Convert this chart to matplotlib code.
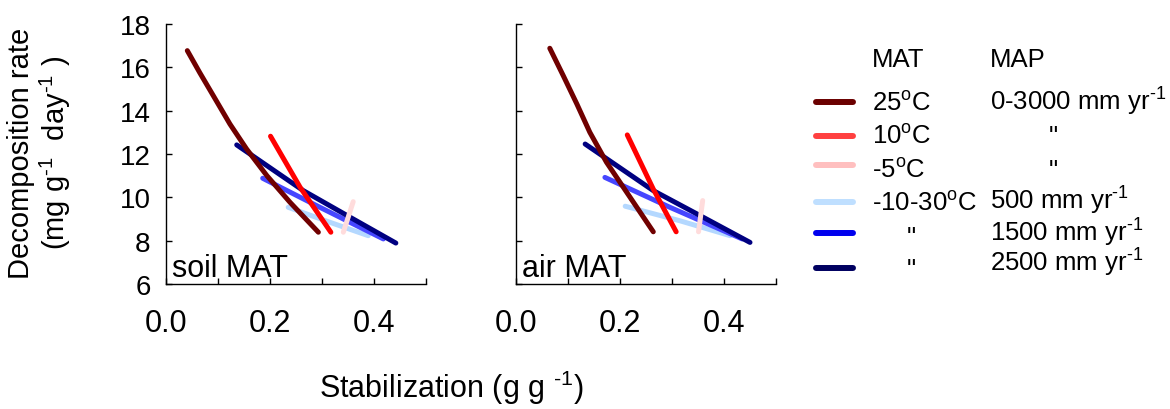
import matplotlib
matplotlib.use("Agg")
import matplotlib.pyplot as plt
from matplotlib.lines import Line2D

plt.rcParams['font.family'] = ['Liberation Sans', 'DejaVu Sans']
plt.rcParams['mathtext.fontset'] = 'custom'
plt.rcParams['mathtext.rm'] = 'Liberation Sans'
plt.rcParams['mathtext.it'] = 'Liberation Sans'

# curves: (stabilization, decomposition rate)
soil_25_x = [0.041, 0.065, 0.091, 0.123, 0.155, 0.194, 0.2385, 0.293]
soil_25_y = [16.77, 15.75, 14.69, 13.38, 12.23, 11.0, 9.77, 8.39]
soil_10_x = [0.201, 0.258, 0.317]
soil_10_y = [12.82, 10.46, 8.39]
soil_m5_x = [0.341, 0.360]
soil_m5_y = [8.39, 9.80]
soil_500_x = [0.235, 0.315, 0.389]
soil_500_y = [9.54, 8.85, 8.23]
soil_1500_x = [0.186, 0.296, 0.418]
soil_1500_y = [10.88, 9.54, 8.08]
soil_2500_x = [0.136, 0.264, 0.360, 0.442]
soil_2500_y = [12.42, 10.31, 9.0, 7.89]

air_25_x = [0.065, 0.091, 0.117, 0.142, 0.174, 0.213, 0.264]
air_25_y = [16.88, 15.61, 14.31, 13.0, 11.62, 10.23, 8.41]
air_10_x = [0.214, 0.264, 0.308]
air_10_y = [12.88, 10.38, 8.41]
air_m5_x = [0.351, 0.359]
air_m5_y = [8.41, 9.85]
air_500_x = [0.210, 0.315, 0.412]
air_500_y = [9.59, 8.92, 8.23]
air_1500_x = [0.171, 0.296, 0.435]
air_1500_y = [10.92, 9.54, 8.08]
air_2500_x = [0.133, 0.264, 0.360, 0.450]
air_2500_y = [12.46, 10.31, 9.08, 7.92]

panel_names = ['soil MAT', 'air MAT']
sup = '$^{\\text{-}1}$'
mat_labels = ['25$^{\\rm o}$C', '10$^{\\rm o}$C', '-5$^{\\rm o}$C', '-10-30$^{\\rm o}$C', '"', '"']
map_labels = ['0-3000 mm yr' + sup, '"', '"', '500 mm yr' + sup,
              '1500 mm yr' + sup, '2500 mm yr' + sup]

plot_colors = ['#700000', '#ff0000', '#ffdcdc', '#b4d8ff', '#4646ff', '#000080']
legend_colors = ['#6b0000', '#ff4040', '#ffbfbf', '#bfdfff', '#0000ee', '#000060']

soil = [(soil_500_x, soil_500_y, 3), (soil_1500_x, soil_1500_y, 4), (soil_2500_x, soil_2500_y, 5),
        (soil_25_x, soil_25_y, 0), (soil_10_x, soil_10_y, 1), (soil_m5_x, soil_m5_y, 2)]
air = [(air_500_x, air_500_y, 3), (air_1500_x, air_1500_y, 4), (air_2500_x, air_2500_y, 5),
       (air_25_x, air_25_y, 0), (air_10_x, air_10_y, 1), (air_m5_x, air_m5_y, 2)]

fig = plt.figure(figsize=(11.7, 4.1), dpi=100)
ax1 = fig.add_axes([166/1170, 1-285/410, 260/1170, 260/410])
ax2 = fig.add_axes([516/1170, 1-285/410, 260/1170, 260/410])

for ax, series, name in zip([ax1, ax2], [soil, air], panel_names):
    for xs, ys, c in series:
        ax.plot(xs, ys, color=plot_colors[c], lw=3.6, solid_capstyle='round', solid_joinstyle='round')
    ax.set_xlim(0, 0.5)
    ax.set_ylim(6, 18)
    ax.set_xticks([0, 0.1, 0.2, 0.3, 0.4, 0.5])
    ax.set_xticklabels(['0.0', '', '0.2', '', '0.4', ''])
    ax.set_yticks([6, 8, 10, 12, 14, 16, 18])
    ax.spines['top'].set_visible(False)
    ax.spines['right'].set_visible(False)
    ax.spines['left'].set_linewidth(1.0)
    ax.spines['bottom'].set_linewidth(1.0)
    ax.tick_params(axis='x', direction='in', length=4, width=1, labelsize=22, pad=17)
    ax.tick_params(axis='y', direction='in', length=4, width=1, labelsize=20, pad=11)
    ax.text(0.012, 6.37, name, fontsize=22, va='baseline', ha='left')
ax2.set_yticklabels([])

fig.text(40/1170, 1-153/410, 'Decomposition rate\n(mg g' + sup + '  day' + sup + ' )',
         rotation=90, ha='center', va='center', fontsize=21, linespacing=1.1, multialignment='center')
fig.text(451/1170, 1-398/410, 'Stabilization (g g ' + sup + ')', ha='center', va='baseline', fontsize=22)

# legend drawn by hand
fig.text(872/1170, 1-67/410, 'MAT', fontsize=18.5, va='baseline')
fig.text(990/1170, 1-67/410, 'MAP', fontsize=18.5, va='baseline')
line_rows = [102.7, 136.7, 166, 203.3, 234, 269.3]
mat_rows = [111, 144, 178, 211, 245, 277]
map_rows = [111, 144, 178, 210, 242, 272]
mat_x = [872, 872, 872, 872, 911, 911]
map_x = [990, 1053, 1053, 990, 990, 990]
for i in range(6):
    fig.add_artist(Line2D([816/1170, 853/1170], [1-line_rows[i]/410]*2, color=legend_colors[i],
                          lw=4.3, solid_capstyle='round', transform=fig.transFigure))
    ha = 'center' if mat_labels[i] == '"' else 'left'
    fig.text(mat_x[i]/1170, 1-mat_rows[i]/410, mat_labels[i], fontsize=18.5, va='baseline', ha=ha)
    ha = 'center' if map_labels[i] == '"' else 'left'
    fig.text(map_x[i]/1170, 1-map_rows[i]/410, map_labels[i], fontsize=18.5, va='baseline', ha=ha)

fig.savefig('out.png', dpi=100)
